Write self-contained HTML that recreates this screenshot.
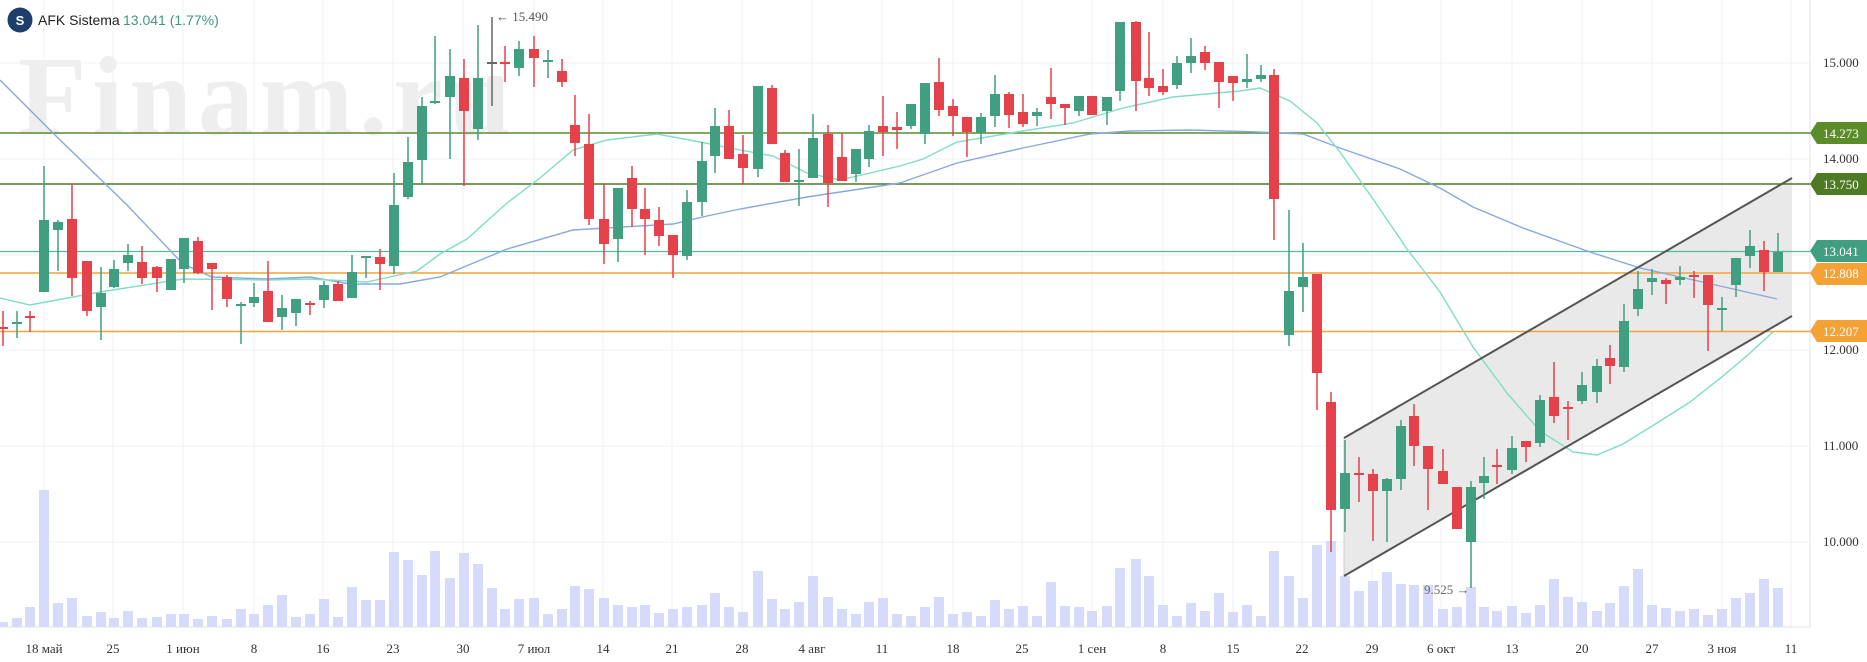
<!DOCTYPE html>
<html><head><meta charset="utf-8"><style>
html,body{margin:0;padding:0;background:#fff;width:1867px;height:662px;overflow:hidden}
svg{display:block}
.t{font-family:"Liberation Serif","Noto Serif CJK SC",serif;font-size:13px;fill:#333}
.g line{stroke:#3f9f80;stroke-width:1.5}.g rect{fill:#3f9f80}
.r line{stroke:#e5414a;stroke-width:1.5}.r rect{fill:#e5414a}
.v rect{fill:#d7dbfb}
</style></head><body>
<svg width="1867" height="662" viewBox="0 0 1867 662" xmlns="http://www.w3.org/2000/svg">
<rect width="1867" height="662" fill="#fff"/>
<!-- watermark -->
<text x="18" y="134" font-family="Liberation Serif,serif" font-weight="bold" font-size="112" fill="#eeeeee" letter-spacing="6">Finam.ru</text>
<!-- grid -->
<g stroke="#eef0f5" stroke-width="1">
<line x1="0" y1="63" x2="1810" y2="63"/><line x1="0" y1="159" x2="1810" y2="159"/><line x1="0" y1="255" x2="1810" y2="255"/><line x1="0" y1="350" x2="1810" y2="350"/><line x1="0" y1="446" x2="1810" y2="446"/><line x1="0" y1="542" x2="1810" y2="542"/>
<path d="M44 0V627M113 0V627M183 0V627M254 0V627M323 0V627M393 0V627M463 0V627M534 0V627M603 0V627M672 0V627M742 0V627M812 0V627M882 0V627M953 0V627M1022 0V627M1092 0V627M1163 0V627M1233 0V627M1302 0V627M1372 0V627M1441 0V627M1512 0V627M1582 0V627M1652 0V627M1722 0V627M1791 0V627"/>
</g>
<line x1="1810" y1="0" x2="1810" y2="627" stroke="#e2e3ea"/>
<line x1="0" y1="627" x2="1810" y2="627" stroke="#e2e3ea"/>
<!-- volumes -->
<g class="v">
<rect x="-2" y="622" width="10" height="5"/><rect x="12" y="618" width="10" height="9"/><rect x="25" y="607" width="10" height="20"/><rect x="39" y="490" width="10" height="137"/><rect x="53" y="603" width="10" height="24"/><rect x="67" y="598" width="10" height="29"/><rect x="82" y="616" width="10" height="11"/><rect x="96" y="612" width="10" height="15"/><rect x="109" y="618" width="10" height="9"/><rect x="123" y="611" width="10" height="16"/><rect x="137" y="618" width="10" height="9"/><rect x="152" y="617" width="10" height="10"/><rect x="166" y="614" width="10" height="13"/><rect x="179" y="614" width="10" height="13"/><rect x="193" y="619" width="10" height="8"/><rect x="207" y="616" width="10" height="11"/><rect x="222" y="619" width="10" height="8"/><rect x="236" y="609" width="10" height="18"/><rect x="249" y="614" width="10" height="13"/><rect x="263" y="605" width="10" height="22"/><rect x="277" y="595" width="10" height="32"/><rect x="291" y="617" width="10" height="10"/><rect x="305" y="614" width="10" height="13"/><rect x="319" y="599" width="10" height="28"/><rect x="333" y="617" width="10" height="10"/><rect x="347" y="587" width="10" height="40"/><rect x="361" y="600" width="10" height="27"/><rect x="375" y="600" width="10" height="27"/><rect x="389" y="552" width="10" height="75"/><rect x="403" y="560" width="10" height="67"/><rect x="417" y="575" width="10" height="52"/><rect x="430" y="551" width="10" height="76"/><rect x="445" y="578" width="10" height="49"/><rect x="459" y="553" width="10" height="74"/><rect x="473" y="564" width="10" height="63"/><rect x="487" y="588" width="10" height="39"/><rect x="500" y="609" width="10" height="18"/><rect x="514" y="599" width="10" height="28"/><rect x="529" y="598" width="10" height="29"/><rect x="543" y="614" width="10" height="13"/><rect x="557" y="609" width="10" height="18"/><rect x="570" y="586" width="10" height="41"/><rect x="584" y="589" width="10" height="38"/><rect x="599" y="598" width="10" height="29"/><rect x="613" y="605" width="10" height="22"/><rect x="627" y="607" width="10" height="20"/><rect x="640" y="605" width="10" height="22"/><rect x="654" y="613" width="10" height="14"/><rect x="668" y="609" width="10" height="18"/><rect x="682" y="607" width="10" height="20"/><rect x="697" y="605" width="10" height="22"/><rect x="710" y="593" width="10" height="34"/><rect x="724" y="607" width="10" height="20"/><rect x="738" y="612" width="10" height="15"/><rect x="753" y="571" width="10" height="56"/><rect x="767" y="599" width="10" height="28"/><rect x="780" y="609" width="10" height="18"/><rect x="794" y="602" width="10" height="25"/><rect x="808" y="576" width="10" height="51"/><rect x="823" y="597" width="10" height="30"/><rect x="837" y="609" width="10" height="18"/><rect x="851" y="614" width="10" height="13"/><rect x="864" y="602" width="10" height="25"/><rect x="878" y="598" width="10" height="29"/><rect x="892" y="614" width="10" height="13"/><rect x="906" y="616" width="10" height="11"/><rect x="920" y="607" width="10" height="20"/><rect x="934" y="597" width="10" height="30"/><rect x="948" y="614" width="10" height="13"/><rect x="962" y="612" width="10" height="15"/><rect x="976" y="616" width="10" height="11"/><rect x="990" y="600" width="10" height="27"/><rect x="1004" y="609" width="10" height="18"/><rect x="1018" y="606" width="10" height="21"/><rect x="1032" y="616" width="10" height="11"/><rect x="1046" y="582" width="10" height="45"/><rect x="1060" y="606" width="10" height="21"/><rect x="1074" y="607" width="10" height="20"/><rect x="1087" y="611" width="10" height="16"/><rect x="1102" y="606" width="10" height="21"/><rect x="1115" y="568" width="10" height="59"/><rect x="1131" y="559" width="10" height="68"/><rect x="1144" y="576" width="10" height="51"/><rect x="1158" y="605" width="10" height="22"/><rect x="1172" y="616" width="10" height="11"/><rect x="1186" y="603" width="10" height="24"/><rect x="1200" y="611" width="10" height="16"/><rect x="1214" y="593" width="10" height="34"/><rect x="1228" y="612" width="10" height="15"/><rect x="1242" y="605" width="10" height="22"/><rect x="1256" y="616" width="10" height="11"/><rect x="1269" y="551" width="10" height="76"/><rect x="1284" y="576" width="10" height="51"/><rect x="1298" y="598" width="10" height="29"/><rect x="1312" y="545" width="10" height="82"/><rect x="1326" y="541" width="10" height="86"/><rect x="1340" y="576" width="10" height="51"/><rect x="1354" y="591" width="10" height="36"/><rect x="1368" y="581" width="10" height="46"/><rect x="1382" y="572" width="10" height="55"/><rect x="1396" y="584" width="10" height="43"/><rect x="1409" y="585" width="10" height="42"/><rect x="1423" y="585" width="10" height="42"/><rect x="1438" y="609" width="10" height="18"/><rect x="1452" y="607" width="10" height="20"/><rect x="1466" y="587" width="10" height="40"/><rect x="1479" y="607" width="10" height="20"/><rect x="1492" y="611" width="10" height="16"/><rect x="1507" y="606" width="10" height="21"/><rect x="1521" y="613" width="10" height="14"/><rect x="1535" y="605" width="10" height="22"/><rect x="1549" y="579" width="10" height="48"/><rect x="1563" y="597" width="10" height="30"/><rect x="1577" y="602" width="10" height="25"/><rect x="1592" y="611" width="10" height="16"/><rect x="1605" y="603" width="10" height="24"/><rect x="1619" y="586" width="10" height="41"/><rect x="1633" y="569" width="10" height="58"/><rect x="1647" y="605" width="10" height="22"/><rect x="1661" y="608" width="10" height="19"/><rect x="1675" y="611" width="10" height="16"/><rect x="1689" y="609" width="10" height="18"/><rect x="1703" y="615" width="10" height="12"/><rect x="1717" y="609" width="10" height="18"/><rect x="1731" y="598" width="10" height="29"/><rect x="1745" y="593" width="10" height="34"/><rect x="1759" y="579" width="10" height="48"/><rect x="1773" y="588" width="10" height="39"/>
</g>
<!-- channel fill -->
<polygon points="1344,438 1792,178 1792,316 1344,576" fill="#e3e3e3" fill-opacity="0.8"/>
<line x1="1344" y1="438" x2="1344" y2="576" stroke="#cfcfcf"/>
<rect x="487" y="76" width="16" height="55" rx="4" fill="#ececec"/>
<!-- horizontal levels -->
<line x1="0" y1="133" x2="1810" y2="133" stroke="#5b8c2a" stroke-width="1.6"/>
<line x1="0" y1="184" x2="1810" y2="184" stroke="#4d7a22" stroke-width="1.6"/>
<line x1="0" y1="251.5" x2="1810" y2="251.5" stroke="#55b99a" stroke-width="1.2"/>
<line x1="0" y1="273" x2="1810" y2="273" stroke="#f4a236" stroke-width="1.6"/>
<line x1="0" y1="331.5" x2="1810" y2="331.5" stroke="#f4a236" stroke-width="1.6"/>
<!-- MAs -->
<polyline fill="none" stroke="#86a9dd" stroke-width="1.4" points="0,80 55,135 127,205 183,264 212,277 267,279 310,277 350,284 400,284 440,277 507,249 573,230 673,224 707,216 740,209 807,197 900,183 957,163 1023,148 1090,134 1130,131 1190,130 1257,132 1303,134 1340,148 1400,169 1440,188 1473,207 1523,228 1590,252 1640,268 1707,283 1777,299"/>
<polyline fill="none" stroke="#80dcc6" stroke-width="1.4" points="0,298 30,305 100,292 183,279 267,280 310,279 367,282 417,271 440,254 467,239 507,203 540,178 573,150 607,140 657,134 700,142 740,150 773,156 807,173 840,180 900,166 923,159 957,142 1023,131 1073,123 1123,108 1173,97 1240,91 1260,88 1290,101 1317,123 1340,152 1373,199 1407,249 1440,292 1473,347 1507,393 1540,431 1573,452 1597,455 1623,444 1657,423 1690,402 1723,376 1750,353 1773,332"/>
<!-- channel lines -->
<line x1="1344" y1="438" x2="1792" y2="178" stroke="#555" stroke-width="2"/>
<line x1="1344" y1="576" x2="1792" y2="316" stroke="#555" stroke-width="2"/>
<!-- candles -->
<g class="r">
<line x1="3" y1="311" x2="3" y2="346"/><rect x="-2" y="327" width="10" height="2"/>
<line x1="30" y1="311" x2="30" y2="332"/><rect x="25" y="316" width="10" height="2"/>
<line x1="72" y1="184" x2="72" y2="296"/><rect x="67" y="219" width="10" height="59"/>
<line x1="87" y1="261" x2="87" y2="316"/><rect x="82" y="261" width="10" height="50"/>
<line x1="142" y1="246" x2="142" y2="284"/><rect x="137" y="262" width="10" height="16"/>
<line x1="157" y1="266" x2="157" y2="292"/><rect x="152" y="267" width="10" height="11"/>
<line x1="198" y1="237" x2="198" y2="274"/><rect x="193" y="241" width="10" height="32"/>
<line x1="212" y1="263" x2="212" y2="310"/><rect x="207" y="263" width="10" height="6"/>
<line x1="227" y1="275" x2="227" y2="307"/><rect x="222" y="277" width="10" height="22"/>
<line x1="268" y1="261" x2="268" y2="322"/><rect x="263" y="291" width="10" height="31"/>
<line x1="310" y1="301" x2="310" y2="315"/><rect x="305" y="303" width="10" height="2"/>
<line x1="338" y1="281" x2="338" y2="301"/><rect x="333" y="284" width="10" height="17"/>
<line x1="380" y1="249" x2="380" y2="290"/><rect x="375" y="257" width="10" height="7"/>
<line x1="464" y1="59" x2="464" y2="186"/><rect x="459" y="78" width="10" height="33"/>
<line x1="505" y1="46" x2="505" y2="82"/><rect x="500" y="62" width="10" height="2"/>
<line x1="534" y1="36" x2="534" y2="87"/><rect x="529" y="49" width="10" height="9"/>
<line x1="562" y1="59" x2="562" y2="87"/><rect x="557" y="71" width="10" height="11"/>
<line x1="575" y1="95" x2="575" y2="156"/><rect x="570" y="125" width="10" height="18"/>
<line x1="589" y1="114" x2="589" y2="225"/><rect x="584" y="144" width="10" height="75"/>
<line x1="604" y1="184" x2="604" y2="264"/><rect x="599" y="219" width="10" height="25"/>
<line x1="632" y1="166" x2="632" y2="227"/><rect x="627" y="178" width="10" height="31"/>
<line x1="645" y1="188" x2="645" y2="255"/><rect x="640" y="209" width="10" height="10"/>
<line x1="659" y1="207" x2="659" y2="246"/><rect x="654" y="220" width="10" height="16"/>
<line x1="673" y1="235" x2="673" y2="278"/><rect x="668" y="235" width="10" height="20"/>
<line x1="729" y1="110" x2="729" y2="159"/><rect x="724" y="126" width="10" height="33"/>
<line x1="743" y1="135" x2="743" y2="184"/><rect x="738" y="154" width="10" height="14"/>
<line x1="772" y1="85" x2="772" y2="144"/><rect x="767" y="88" width="10" height="56"/>
<line x1="785" y1="150" x2="785" y2="182"/><rect x="780" y="153" width="10" height="29"/>
<line x1="828" y1="125" x2="828" y2="207"/><rect x="823" y="134" width="10" height="49"/>
<line x1="842" y1="133" x2="842" y2="181"/><rect x="837" y="157" width="10" height="24"/>
<line x1="883" y1="96" x2="883" y2="156"/><rect x="878" y="126" width="10" height="6"/>
<line x1="897" y1="112" x2="897" y2="149"/><rect x="892" y="127" width="10" height="3"/>
<line x1="939" y1="58" x2="939" y2="116"/><rect x="934" y="82" width="10" height="28"/>
<line x1="953" y1="99" x2="953" y2="136"/><rect x="948" y="106" width="10" height="10"/>
<line x1="967" y1="117" x2="967" y2="157"/><rect x="962" y="117" width="10" height="15"/>
<line x1="1009" y1="92" x2="1009" y2="128"/><rect x="1004" y="94" width="10" height="21"/>
<line x1="1023" y1="94" x2="1023" y2="127"/><rect x="1018" y="112" width="10" height="12"/>
<line x1="1051" y1="68" x2="1051" y2="119"/><rect x="1046" y="97" width="10" height="7"/>
<line x1="1065" y1="104" x2="1065" y2="125"/><rect x="1060" y="104" width="10" height="4"/>
<line x1="1092" y1="96" x2="1092" y2="115"/><rect x="1087" y="96" width="10" height="19"/>
<line x1="1136" y1="21" x2="1136" y2="111"/><rect x="1131" y="22" width="10" height="59"/>
<line x1="1149" y1="32" x2="1149" y2="96"/><rect x="1144" y="78" width="10" height="10"/>
<line x1="1163" y1="69" x2="1163" y2="95"/><rect x="1158" y="86" width="10" height="6"/>
<line x1="1205" y1="46" x2="1205" y2="70"/><rect x="1200" y="52" width="10" height="11"/>
<line x1="1219" y1="62" x2="1219" y2="108"/><rect x="1214" y="62" width="10" height="20"/>
<line x1="1233" y1="76" x2="1233" y2="101"/><rect x="1228" y="76" width="10" height="7"/>
<line x1="1274" y1="69" x2="1274" y2="240"/><rect x="1269" y="75" width="10" height="124"/>
<line x1="1317" y1="274" x2="1317" y2="410"/><rect x="1312" y="274" width="10" height="99"/>
<line x1="1331" y1="392" x2="1331" y2="552"/><rect x="1326" y="402" width="10" height="108"/>
<line x1="1359" y1="457" x2="1359" y2="502"/><rect x="1354" y="473" width="10" height="2"/>
<line x1="1373" y1="469" x2="1373" y2="541"/><rect x="1368" y="474" width="10" height="17"/>
<line x1="1414" y1="404" x2="1414" y2="466"/><rect x="1409" y="416" width="10" height="30"/>
<line x1="1428" y1="446" x2="1428" y2="510"/><rect x="1423" y="446" width="10" height="23"/>
<line x1="1443" y1="449" x2="1443" y2="484"/><rect x="1438" y="471" width="10" height="13"/>
<line x1="1457" y1="487" x2="1457" y2="529"/><rect x="1452" y="487" width="10" height="42"/>
<line x1="1497" y1="449" x2="1497" y2="484"/><rect x="1492" y="465" width="10" height="2"/>
<line x1="1526" y1="441" x2="1526" y2="462"/><rect x="1521" y="441" width="10" height="6"/>
<line x1="1554" y1="362" x2="1554" y2="423"/><rect x="1549" y="397" width="10" height="19"/>
<line x1="1568" y1="401" x2="1568" y2="440"/><rect x="1563" y="407" width="10" height="2"/>
<line x1="1610" y1="345" x2="1610" y2="384"/><rect x="1605" y="358" width="10" height="8"/>
<line x1="1666" y1="278" x2="1666" y2="304"/><rect x="1661" y="280" width="10" height="4"/>
<line x1="1694" y1="271" x2="1694" y2="298"/><rect x="1689" y="275" width="10" height="2"/>
<line x1="1708" y1="275" x2="1708" y2="351"/><rect x="1703" y="275" width="10" height="30"/>
<line x1="1764" y1="241" x2="1764" y2="291"/><rect x="1759" y="250" width="10" height="22"/>
</g>
<g class="g">
<line x1="17" y1="311" x2="17" y2="338"/><rect x="12" y="322" width="10" height="2"/>
<line x1="44" y1="166" x2="44" y2="292"/><rect x="39" y="220" width="10" height="72"/>
<line x1="58" y1="220" x2="58" y2="271"/><rect x="53" y="222" width="10" height="8"/>
<line x1="101" y1="267" x2="101" y2="340"/><rect x="96" y="293" width="10" height="14"/>
<line x1="114" y1="260" x2="114" y2="288"/><rect x="109" y="269" width="10" height="18"/>
<line x1="128" y1="244" x2="128" y2="271"/><rect x="123" y="255" width="10" height="8"/>
<line x1="171" y1="259" x2="171" y2="290"/><rect x="166" y="259" width="10" height="31"/>
<line x1="184" y1="238" x2="184" y2="283"/><rect x="179" y="238" width="10" height="31"/>
<line x1="241" y1="302" x2="241" y2="344"/><rect x="236" y="304" width="10" height="2"/>
<line x1="254" y1="283" x2="254" y2="307"/><rect x="249" y="297" width="10" height="6"/>
<line x1="282" y1="295" x2="282" y2="330"/><rect x="277" y="308" width="10" height="9"/>
<line x1="296" y1="299" x2="296" y2="326"/><rect x="291" y="299" width="10" height="14"/>
<line x1="324" y1="281" x2="324" y2="308"/><rect x="319" y="285" width="10" height="15"/>
<line x1="352" y1="255" x2="352" y2="298"/><rect x="347" y="272" width="10" height="26"/>
<line x1="366" y1="256" x2="366" y2="278"/><rect x="361" y="256" width="10" height="2"/>
<line x1="394" y1="173" x2="394" y2="274"/><rect x="389" y="205" width="10" height="61"/>
<line x1="408" y1="137" x2="408" y2="199"/><rect x="403" y="162" width="10" height="35"/>
<line x1="422" y1="97" x2="422" y2="185"/><rect x="417" y="106" width="10" height="54"/>
<line x1="435" y1="36" x2="435" y2="104"/><rect x="430" y="101" width="10" height="2"/>
<line x1="450" y1="49" x2="450" y2="159"/><rect x="445" y="76" width="10" height="21"/>
<line x1="478" y1="25" x2="478" y2="140"/><rect x="473" y="78" width="10" height="51"/>
<line x1="519" y1="41" x2="519" y2="76"/><rect x="514" y="49" width="10" height="19"/>
<line x1="548" y1="50" x2="548" y2="78"/><rect x="543" y="60" width="10" height="2"/>
<line x1="618" y1="188" x2="618" y2="262"/><rect x="613" y="188" width="10" height="51"/>
<line x1="687" y1="190" x2="687" y2="260"/><rect x="682" y="202" width="10" height="54"/>
<line x1="702" y1="142" x2="702" y2="216"/><rect x="697" y="161" width="10" height="41"/>
<line x1="715" y1="108" x2="715" y2="173"/><rect x="710" y="126" width="10" height="30"/>
<line x1="758" y1="86" x2="758" y2="177"/><rect x="753" y="86" width="10" height="83"/>
<line x1="799" y1="149" x2="799" y2="206"/><rect x="794" y="180" width="10" height="2"/>
<line x1="813" y1="114" x2="813" y2="178"/><rect x="808" y="138" width="10" height="40"/>
<line x1="856" y1="149" x2="856" y2="182"/><rect x="851" y="149" width="10" height="25"/>
<line x1="869" y1="125" x2="869" y2="167"/><rect x="864" y="131" width="10" height="28"/>
<line x1="911" y1="104" x2="911" y2="129"/><rect x="906" y="104" width="10" height="22"/>
<line x1="925" y1="83" x2="925" y2="144"/><rect x="920" y="83" width="10" height="51"/>
<line x1="981" y1="113" x2="981" y2="144"/><rect x="976" y="117" width="10" height="16"/>
<line x1="995" y1="75" x2="995" y2="127"/><rect x="990" y="94" width="10" height="22"/>
<line x1="1037" y1="108" x2="1037" y2="126"/><rect x="1032" y="112" width="10" height="4"/>
<line x1="1079" y1="96" x2="1079" y2="116"/><rect x="1074" y="96" width="10" height="15"/>
<line x1="1107" y1="97" x2="1107" y2="125"/><rect x="1102" y="97" width="10" height="14"/>
<line x1="1120" y1="22" x2="1120" y2="101"/><rect x="1115" y="22" width="10" height="69"/>
<line x1="1177" y1="56" x2="1177" y2="89"/><rect x="1172" y="63" width="10" height="22"/>
<line x1="1191" y1="38" x2="1191" y2="73"/><rect x="1186" y="56" width="10" height="7"/>
<line x1="1247" y1="54" x2="1247" y2="88"/><rect x="1242" y="79" width="10" height="3"/>
<line x1="1261" y1="65" x2="1261" y2="82"/><rect x="1256" y="75" width="10" height="4"/>
<line x1="1289" y1="210" x2="1289" y2="346"/><rect x="1284" y="291" width="10" height="44"/>
<line x1="1303" y1="243" x2="1303" y2="312"/><rect x="1298" y="277" width="10" height="10"/>
<line x1="1345" y1="440" x2="1345" y2="532"/><rect x="1340" y="473" width="10" height="36"/>
<line x1="1387" y1="478" x2="1387" y2="542"/><rect x="1382" y="479" width="10" height="12"/>
<line x1="1401" y1="420" x2="1401" y2="490"/><rect x="1396" y="426" width="10" height="53"/>
<line x1="1471" y1="481" x2="1471" y2="588"/><rect x="1466" y="487" width="10" height="55"/>
<line x1="1484" y1="457" x2="1484" y2="499"/><rect x="1479" y="476" width="10" height="7"/>
<line x1="1512" y1="436" x2="1512" y2="474"/><rect x="1507" y="448" width="10" height="22"/>
<line x1="1540" y1="395" x2="1540" y2="447"/><rect x="1535" y="400" width="10" height="43"/>
<line x1="1582" y1="372" x2="1582" y2="404"/><rect x="1577" y="385" width="10" height="16"/>
<line x1="1597" y1="359" x2="1597" y2="403"/><rect x="1592" y="366" width="10" height="26"/>
<line x1="1624" y1="304" x2="1624" y2="372"/><rect x="1619" y="321" width="10" height="46"/>
<line x1="1638" y1="271" x2="1638" y2="316"/><rect x="1633" y="289" width="10" height="20"/>
<line x1="1652" y1="269" x2="1652" y2="295"/><rect x="1647" y="278" width="10" height="4"/>
<line x1="1680" y1="266" x2="1680" y2="285"/><rect x="1675" y="277" width="10" height="3"/>
<line x1="1722" y1="297" x2="1722" y2="331"/><rect x="1717" y="308" width="10" height="2"/>
<line x1="1736" y1="258" x2="1736" y2="297"/><rect x="1731" y="258" width="10" height="27"/>
<line x1="1750" y1="230" x2="1750" y2="268"/><rect x="1745" y="246" width="10" height="10"/>
<line x1="1778" y1="233" x2="1778" y2="272"/><rect x="1773" y="252" width="10" height="20"/>
</g>
<line x1="492" y1="17" x2="492" y2="106" stroke="#666" stroke-width="1.5"/><rect x="487" y="62" width="10" height="2" fill="#666"/>
<!-- extreme labels -->
<text x="496" y="21" class="t" fill="#555" style="fill:#555">← 15.490</text>
<text x="1424" y="594" class="t" style="fill:#666">9.525 →</text>
<!-- header -->
<circle cx="20" cy="20" r="12.5" fill="#1e3e6c"/>
<text x="20" y="25" text-anchor="middle" font-family="Liberation Sans,sans-serif" font-size="13" font-weight="bold" fill="#fff">S</text>
<text x="38" y="25" font-family="Liberation Sans,sans-serif" font-size="14" fill="#222">AFK Sistema</text>
<text x="123" y="25" font-family="Liberation Sans,sans-serif" font-size="14" fill="#3a9a80">13.041  (1.77%)</text>
<!-- price axis -->
<g class="t">
<text x="1823" y="67">15.000</text><text x="1823" y="163">14.000</text><text x="1823" y="354">12.000</text><text x="1823" y="450">11.000</text><text x="1823" y="546">10.000</text>
</g>
<!-- badges -->
<g font-family="Liberation Serif,serif" font-size="13" fill="#fff">
<path d="M1810 133L1817 122H1867V144H1817Z" fill="#5b8c2a"/><text x="1823" y="138">14.273</text>
<path d="M1810 184L1817 173H1867V195H1817Z" fill="#4d7a22"/><text x="1823" y="189">13.750</text>
<path d="M1810 251L1817 240H1867V262H1817Z" fill="#3f9f80"/><text x="1823" y="256">13.041</text>
<path d="M1810 273L1817 263H1867V285H1817Z" fill="#f4a236"/><text x="1823" y="278">12.808</text>
<path d="M1810 331L1817 320H1867V342H1817Z" fill="#f4a236"/><text x="1823" y="336">12.207</text>
</g>
<!-- date axis -->
<g class="t" text-anchor="middle">
<text x="44" y="653">18 май</text><text x="113" y="653">25</text><text x="183" y="653">1 июн</text><text x="254" y="653">8</text><text x="323" y="653">16</text><text x="393" y="653">23</text><text x="463" y="653">30</text><text x="534" y="653">7 июл</text><text x="603" y="653">14</text><text x="672" y="653">21</text><text x="742" y="653">28</text><text x="812" y="653">4 авг</text><text x="882" y="653">11</text><text x="953" y="653">18</text><text x="1022" y="653">25</text><text x="1092" y="653">1 сен</text><text x="1163" y="653">8</text><text x="1233" y="653">15</text><text x="1302" y="653">22</text><text x="1372" y="653">29</text><text x="1441" y="653">6 окт</text><text x="1512" y="653">13</text><text x="1582" y="653">20</text><text x="1652" y="653">27</text><text x="1722" y="653">3 ноя</text><text x="1791" y="653">11</text>
</g>
</svg>
</body></html>
